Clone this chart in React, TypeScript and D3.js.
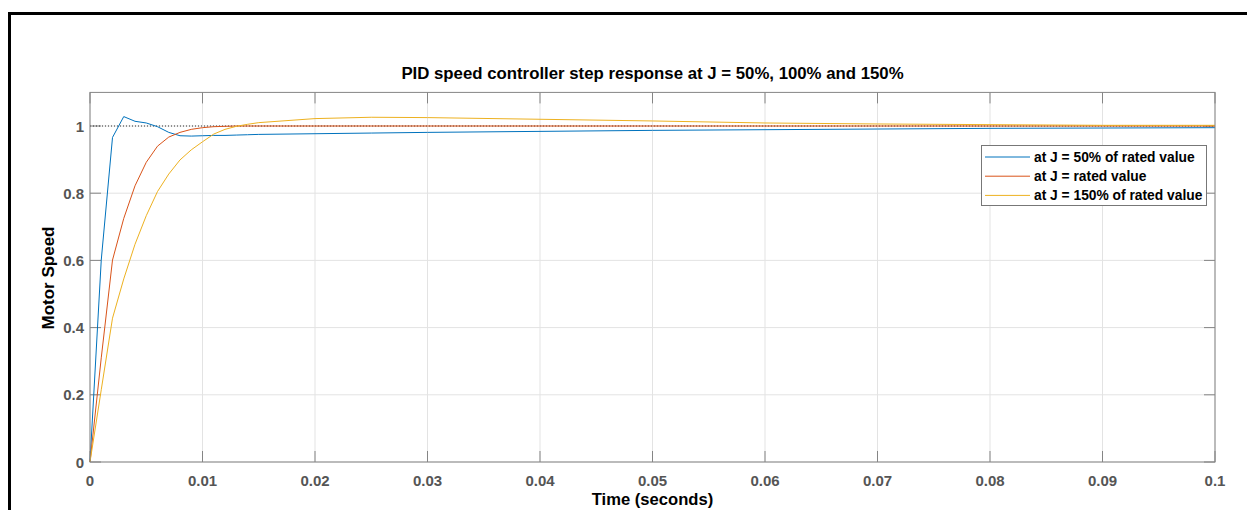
import React from "react";
import * as d3 from "d3";

const timeS = [0, 0.001, 0.002, 0.003, 0.004, 0.005, 0.006, 0.007, 0.008, 0.009, 0.01, 0.011, 0.012, 0.013, 0.014, 0.015, 0.02, 0.025, 0.03, 0.04, 0.05, 0.06, 0.07, 0.08, 0.09, 0.1];
const speedJ50 = [0, 0.601, 0.966, 1.028, 1.014, 1.009, 0.998, 0.981, 0.971, 0.97, 0.971, 0.972, 0.972, 0.973, 0.974, 0.975, 0.977, 0.979, 0.981, 0.984, 0.987, 0.989, 0.991, 0.993, 0.994, 0.995];
const speedJ100 = [0, 0.31, 0.601, 0.725, 0.822, 0.892, 0.94, 0.967, 0.981, 0.99, 0.995, 0.998, 0.999, 1.0, 1.0, 1.0, 1.0, 1.0, 1.0, 1.0, 1.0, 1.0, 1.0, 1.0, 1.0, 1.0];
const speedJ150 = [0, 0.215, 0.428, 0.545, 0.648, 0.733, 0.805, 0.857, 0.899, 0.929, 0.953, 0.976, 0.99, 0.999, 1.005, 1.01, 1.022, 1.026, 1.025, 1.02, 1.015, 1.009, 1.006, 1.004, 1.002, 1.002];

const seriesNames = ["at J = 50% of rated value", "at J = rated value", "at J = 150% of rated value"];
const seriesColors = ["#0072BD", "#D95319", "#EDB120"];
const xTicks = [0, 0.01, 0.02, 0.03, 0.04, 0.05, 0.06, 0.07, 0.08, 0.09, 0.1];
const yTicks = [0, 0.2, 0.4, 0.6, 0.8, 1];
const referenceLevel = 1;

const W = 1247, H = 510;
const L = 90, R = 1215, T = 92.4, B = 462;
const FONT = "'Liberation Sans', Arial, Helvetica, sans-serif";

export default function App() {
  const x = d3.scaleLinear().domain([0, 0.1]).range([L, R]);
  const y = d3.scaleLinear().domain([0, 1.1]).range([B, T]);
  const series = [speedJ50, speedJ100, speedJ150];
  const line = d3.line<number>().x((_, i) => x(timeS[i])).y((v) => y(v));
  const tickLen = 11;
  const axisColor = "#858585";
  const labelColor = "#555";
  const fmt = (v: number) => (v === 0 ? "0" : String(+v.toFixed(2)));

  return (
    <svg width={W} height={H} style={{ position: "absolute", left: 0, top: 0, display: "block" }} fontFamily={FONT}>
      <rect x={0} y={0} width={W} height={H} fill="#fff" />
      <rect x={9.5} y={13.5} width={W + 20} height={H + 20} fill="none" stroke="#000" strokeWidth={3} />
      {/* grid */}
      {xTicks.map((t) => (
        <line key={"gx" + t} x1={x(t)} x2={x(t)} y1={T} y2={B} stroke="#e3e3e3" strokeWidth={1} />
      ))}
      {yTicks.map((t) => (
        <line key={"gy" + t} x1={L} x2={R} y1={y(t)} y2={y(t)} stroke="#e3e3e3" strokeWidth={1} />
      ))}
      {/* ticks */}
      {xTicks.map((t) => (
        <g key={"tx" + t}>
          <line x1={x(t)} x2={x(t)} y1={B} y2={B - tickLen} stroke={axisColor} />
          <line x1={x(t)} x2={x(t)} y1={T} y2={T + tickLen} stroke={axisColor} />
          <text x={x(t)} y={486} textAnchor="middle" fontSize={15} fontWeight="bold" fill={labelColor}>{fmt(t)}</text>
        </g>
      ))}
      {yTicks.map((t) => (
        <g key={"ty" + t}>
          <line x1={L} x2={L + tickLen} y1={y(t)} y2={y(t)} stroke={axisColor} />
          <line x1={R} x2={R - tickLen} y1={y(t)} y2={y(t)} stroke={axisColor} />
          <text x={84} y={y(t) + 5.5} textAnchor="end" fontSize={15} fontWeight="bold" fill={labelColor}>{fmt(t)}</text>
        </g>
      ))}
      {/* reference */}
      <line x1={L} x2={R} y1={y(referenceLevel)} y2={y(referenceLevel)} stroke="#333" strokeWidth={1} strokeDasharray="1,2" />
      {/* series */}
      {series.map((s, i) => (
        <path key={"s" + i} d={line(s) || ""} fill="none" stroke={seriesColors[i]} strokeWidth={1} />
      ))}
      {/* box */}
      <rect x={L} y={T} width={R - L} height={B - T} fill="none" stroke={axisColor} strokeWidth={1} />
      {/* title & labels */}
      <text x={(L + R) / 2} y={78.5} textAnchor="middle" fontSize={16.8} fontWeight="bold" fill="#000">PID speed controller step response at J = 50%, 100% and 150%</text>
      <text x={(L + R) / 2} y={505} textAnchor="middle" fontSize={16.6} fontWeight="bold" fill="#000">Time (seconds)</text>
      <text transform={`translate(53.5,${278}) rotate(-90)`} textAnchor="middle" fontSize={17} fontWeight="bold" fill="#000">Motor Speed</text>
      {/* legend */}
      <rect x={981.5} y={145.5} width={225} height={60} fill="#fff" stroke="#777" strokeWidth={1} />
      {seriesNames.map((n, i) => (
        <g key={"lg" + i}>
          <line x1={985} x2={1030} y1={157 + i * 19.2} y2={157 + i * 19.2} stroke={seriesColors[i]} strokeWidth={1} />
          <text x={1034} y={162 + i * 19.2} fontSize={13.8} fontWeight="bold" fill="#000">{n}</text>
        </g>
      ))}
    </svg>
  );
}
